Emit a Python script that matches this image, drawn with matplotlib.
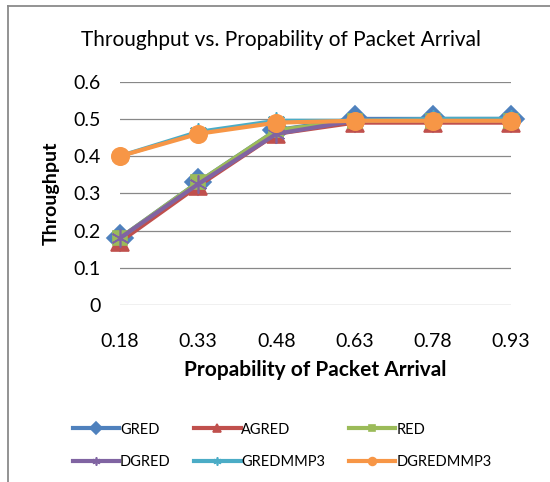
import matplotlib
matplotlib.use('Agg')
import matplotlib.pyplot as plt
from matplotlib.lines import Line2D

categorias = ['0.18', '0.33', '0.48', '0.63', '0.78', '0.93']
gred = [0.18, 0.33, 0.47, 0.50, 0.50, 0.50]
agred = [0.17, 0.32, 0.46, 0.49, 0.49, 0.49]
red = [0.18, 0.33, 0.47, 0.495, 0.495, 0.495]
dgred = [0.18, 0.325, 0.46, 0.495, 0.495, 0.495]
gredmmp3 = [0.40, 0.465, 0.495, 0.495, 0.50, 0.50]
dgredmmp3 = [0.40, 0.46, 0.49, 0.495, 0.495, 0.495]
yticks = [0, 0.1, 0.2, 0.3, 0.4, 0.5, 0.6]

def main():
    plt.rcParams['font.family'] = ['Lato', 'DejaVu Sans']
    fig = plt.figure(figsize=(5.5, 4.82), dpi=100)
    ax = fig.add_axes([120 / 550, 1 - 305 / 482, 391 / 550, 223.3 / 482])

    x = list(range(len(categorias)))
    series = [
        ('GRED', gred, '#4F81BD', 'D', 13),
        ('AGRED', agred, '#C0504D', '^', 13),
        ('RED', red, '#9BBB59', 's', 10),
        ('DGRED', dgred, '#8064A2', (6, 2, 0), 13),
        ('GREDMMP3', gredmmp3, '#4BACC6', (6, 2, 0), 13),
        ('DGREDMMP3', dgredmmp3, '#F79646', 'o', 12.5),
    ]
    for nome, y, cor, mk, ms in series:
        ax.plot(x, y, color=cor, marker=mk, markersize=ms, linewidth=3.0,
                markeredgecolor=cor, markeredgewidth=1.2, label=nome, clip_on=False)

    ax.set_xlim(0, 5)
    ax.set_ylim(0, 0.6)
    ax.set_xticks(x)
    ax.set_xticklabels(categorias)
    ax.set_yticks(yticks)
    ax.set_yticklabels(['0', '0.1', '0.2', '0.3', '0.4', '0.5', '0.6'])
    ax.tick_params(length=0, labelsize=14)
    ax.tick_params(axis='x', pad=20)
    ax.tick_params(axis='y', pad=14)
    for s in ax.spines.values():
        s.set_visible(False)
    ax.grid(axis='y', color='#888888', linewidth=0.9)
    ax.set_axisbelow(True)

    ax.set_ylabel('Throughput', fontsize=14, fontweight='bold', labelpad=10)
    ax.set_xlabel('Propability of Packet Arrival', fontsize=15, fontweight='bold', labelpad=7)
    fig.text(281 / 550, 1 - 40 / 482, 'Throughput vs. Propability of Packet Arrival',
             ha='center', va='center', fontsize=15)

    # borda do gráfico (cortada na imagem original)
    fig.add_artist(Line2D([8 / 550, 8 / 550], [0, 1 - 6 / 482], color='#8a8a8a', linewidth=1.3))
    fig.add_artist(Line2D([8 / 550, 1], [1 - 6 / 482, 1 - 6 / 482], color='#8a8a8a', linewidth=1.3))

    # legenda preenchida por linhas, como no Excel
    h, l = ax.get_legend_handles_labels()
    ordem = [0, 3, 1, 4, 2, 5]
    fig.legend([h[i] for i in ordem], [l[i] for i in ordem], loc='center',
               bbox_to_anchor=(282 / 550, 1 - 446 / 482), ncol=3,
               frameon=False, fontsize=10.5, handlelength=3.2, columnspacing=1.6,
               handletextpad=0.05, labelspacing=1.3, markerscale=0.45)

    plt.savefig('out.png', dpi=100)

if __name__ == "__main__":
    main()
